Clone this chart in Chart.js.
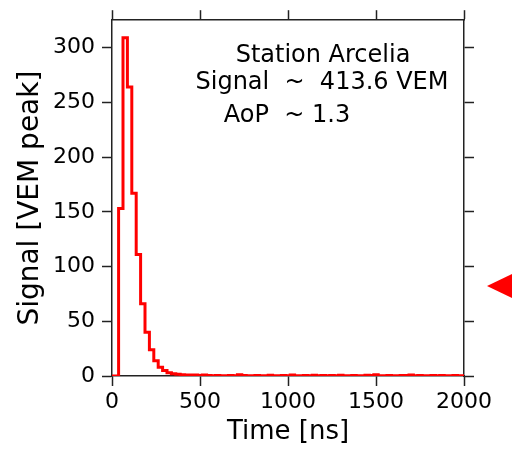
<!DOCTYPE html>
<html>
<head>
<meta charset="utf-8">
<script src="https://cdn.jsdelivr.net/npm/chart.js@4/dist/chart.umd.min.js"></script>
<style>
  body { margin: 0; background: white; }
  #wrap { position: relative; width: 512px; height: 454px; }
  #marker {
    position: absolute; left: 487px; top: 274px; width: 0; height: 0;
    border-top: 12px solid transparent;
    border-bottom: 12px solid transparent;
    border-right: 25px solid red;
  }
</style>
</head>
<body>
<div id="wrap">
  <canvas id="trace" width="512" height="454"></canvas>
  <div id="marker"></div>
</div>
<script>
// histogram binning of the trace (ns)
const firstBin = 37.5;
const binWidth = 25;
const xMax = 2000;

// signal per bin [VEM peak]
const signal = [
  153, 309, 264, 167, 111, 66, 40, 24, 14, 8, 5, 3, 2, 1.5, 1.2, 1, 1,
  0.8, 0.5, 1, 0.5, 0.3, 0.5, 0.3, 0.2, 0.5, 0.3, 1.2, 0.5, 0.3, 0.2, 0.5, 0.3, 0.2, 0.6, 0.3, 0.2, 0.5, 0.3,
  0.8, 0.3, 0.2, 0.5, 0.3, 0.6, 0.2, 0.4, 0.3, 0.5, 0.2, 0.6, 0.3, 0.2, 0.5, 0.3, 0.2, 0.6, 0.4, 1.2,
  0.3, 0.2, 0.5, 0.3, 0.2, 0.5, 0.4, 1.0, 0.3, 0.5, 0.2, 0.3, 0.5, 0.2, 0.4, 0.3, 0.2, 0.4, 0.3, 0.2
];

const xTicks = [0, 500, 1000, 1500, 2000];
const yTicks = [0, 50, 100, 150, 200, 250, 300];

const textLines = ['Station Arcelia', 'Signal  ~  413.6 VEM', 'AoP  ~ 1.3'];

// step points: left edge of every bin, plus the closing point
const points = [{x: 0, y: 0}];
signal.forEach((v, i) => {
  points.push({x: firstBin + i * binWidth, y: v});
});
points.push({x: xMax, y: signal[signal.length - 1]});

const frameColor = '#222';
const tickFont = {family: 'DejaVu Sans', size: 22};

function frameAxis(extra) {
  return Object.assign({
    type: 'linear',
    grid: {drawOnChartArea: false, drawTicks: true, tickLength: 10, tickColor: frameColor, tickWidth: 1.5},
    border: {display: true, color: frameColor, width: 1.5}
  }, extra);
}

// annotation text inside the plot
const annotate = {
  id: 'annotate',
  afterDraw(chart) {
    const ctx = chart.ctx;
    ctx.save();
    ctx.fillStyle = 'black';
    ctx.font = '24px "DejaVu Sans"';
    ctx.textAlign = 'center';
    ctx.textBaseline = 'alphabetic';
    ctx.fillText(textLines[0], 323, 62);
    ctx.fillText(textLines[1], 322, 89);
    ctx.fillText(textLines[2], 287, 122);
    ctx.restore();
  }
};

new Chart(document.getElementById('trace'), {
  type: 'line',
  data: {
    datasets: [{
      data: points,
      stepped: 'before',
      borderColor: '#ff0000',
      borderWidth: 3,
      pointRadius: 0,
      fill: false
    }]
  },
  options: {
    responsive: false,
    animation: false,
    layout: {padding: 0},
    plugins: {legend: {display: false}, tooltip: {enabled: false}},
    scales: {
      x: frameAxis({
        position: 'bottom', min: 0, max: xMax,
        afterBuildTicks: s => { s.ticks = xTicks.map(v => ({value: v})); },
        ticks: {font: tickFont, color: 'black', padding: 3, maxRotation: 0, autoSkip: false, callback: v => String(v)},
        title: {display: true, text: 'Time [ns]', font: {family: 'DejaVu Sans', size: 26}, color: 'black', padding: {top: 0, bottom: 6}},
        afterFit: s => { s.height = 78; }
      }),
      y: frameAxis({
        position: 'left', min: 0, max: 325,
        afterBuildTicks: s => { s.ticks = yTicks.map(v => ({value: v})); },
        ticks: {font: tickFont, color: 'black', padding: 7, autoSkip: false, callback: v => String(v)},
        title: {display: true, text: 'Signal [VEM peak]', font: {family: 'DejaVu Sans', size: 28}, color: 'black', padding: {top: 14, bottom: 0}},
        afterFit: s => { s.width = 112; }
      }),
      x2: frameAxis({
        position: 'top', min: 0, max: xMax,
        afterBuildTicks: s => { s.ticks = xTicks.map(v => ({value: v})); },
        ticks: {display: false},
        afterFit: s => { s.height = 17; }
      }),
      y2: frameAxis({
        position: 'right', min: 0, max: 325,
        afterBuildTicks: s => { s.ticks = yTicks.map(v => ({value: v})); },
        ticks: {display: false},
        afterFit: s => { s.width = 48; }
      })
    }
  },
  plugins: [annotate]
});
</script>
</body>
</html>
